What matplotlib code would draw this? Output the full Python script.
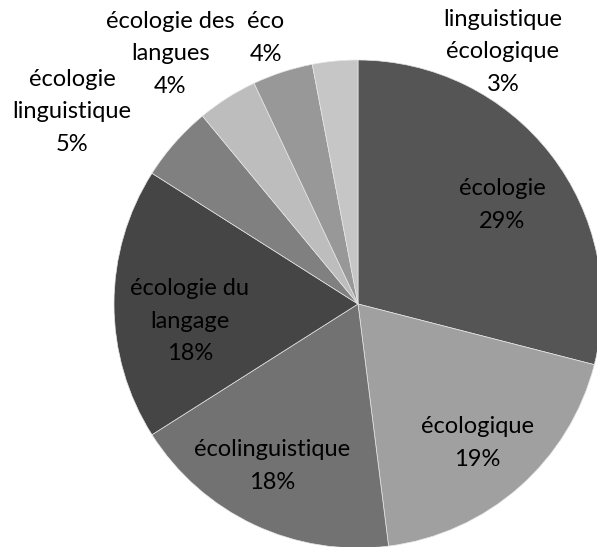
import matplotlib
matplotlib.use("Agg")
import matplotlib.pyplot as plt

labels = ["écologie", "écologique", "écolinguistique", "écologie du\nlangage",
          "écologie\nlinguistique", "écologie des\nlangues", "éco", "linguistique\nécologique"]
values = [29, 19, 18, 18, 5, 4, 4, 3]
colors = ["#555555", "#a0a0a0", "#727272", "#454545", "#808080", "#bdbdbd", "#989898", "#c6c6c6"]

# label anchor positions in radius units (layout, not data)
label_pos = [(0.59, 0.406), (0.488, -0.570), (-0.352, -0.664), (-0.689, -0.070),
             (-1.172, 0.787), (-0.770, 1.025), (-0.377, 1.090), (0.594, 1.033)]

plt.rcParams['font.family'] = ['Lato', 'DejaVu Sans']

fig = plt.figure(figsize=(5.97, 5.47), dpi=100)
ax = fig.add_axes([0, 0, 1, 1])
ax.pie(values, colors=colors, startangle=90, counterclock=False, radius=1.0,
       wedgeprops=dict(edgecolor="#e6e6e6", linewidth=0.5))
ax.set_aspect('auto')
ax.set_xlim(-358/244, 239/244)
ax.set_ylim(-243/244, 304/244)
ax.axis('off')

total = sum(values)
for lab, v, (x, y) in zip(labels, values, label_pos):
    pct = round(100 * v / total)
    ax.text(x, y, f"{lab}\n{pct}%", ha="center", va="center", fontsize=17,
            color="black", linespacing=1.66, multialignment="center")

fig.savefig("out.png", dpi=100)
